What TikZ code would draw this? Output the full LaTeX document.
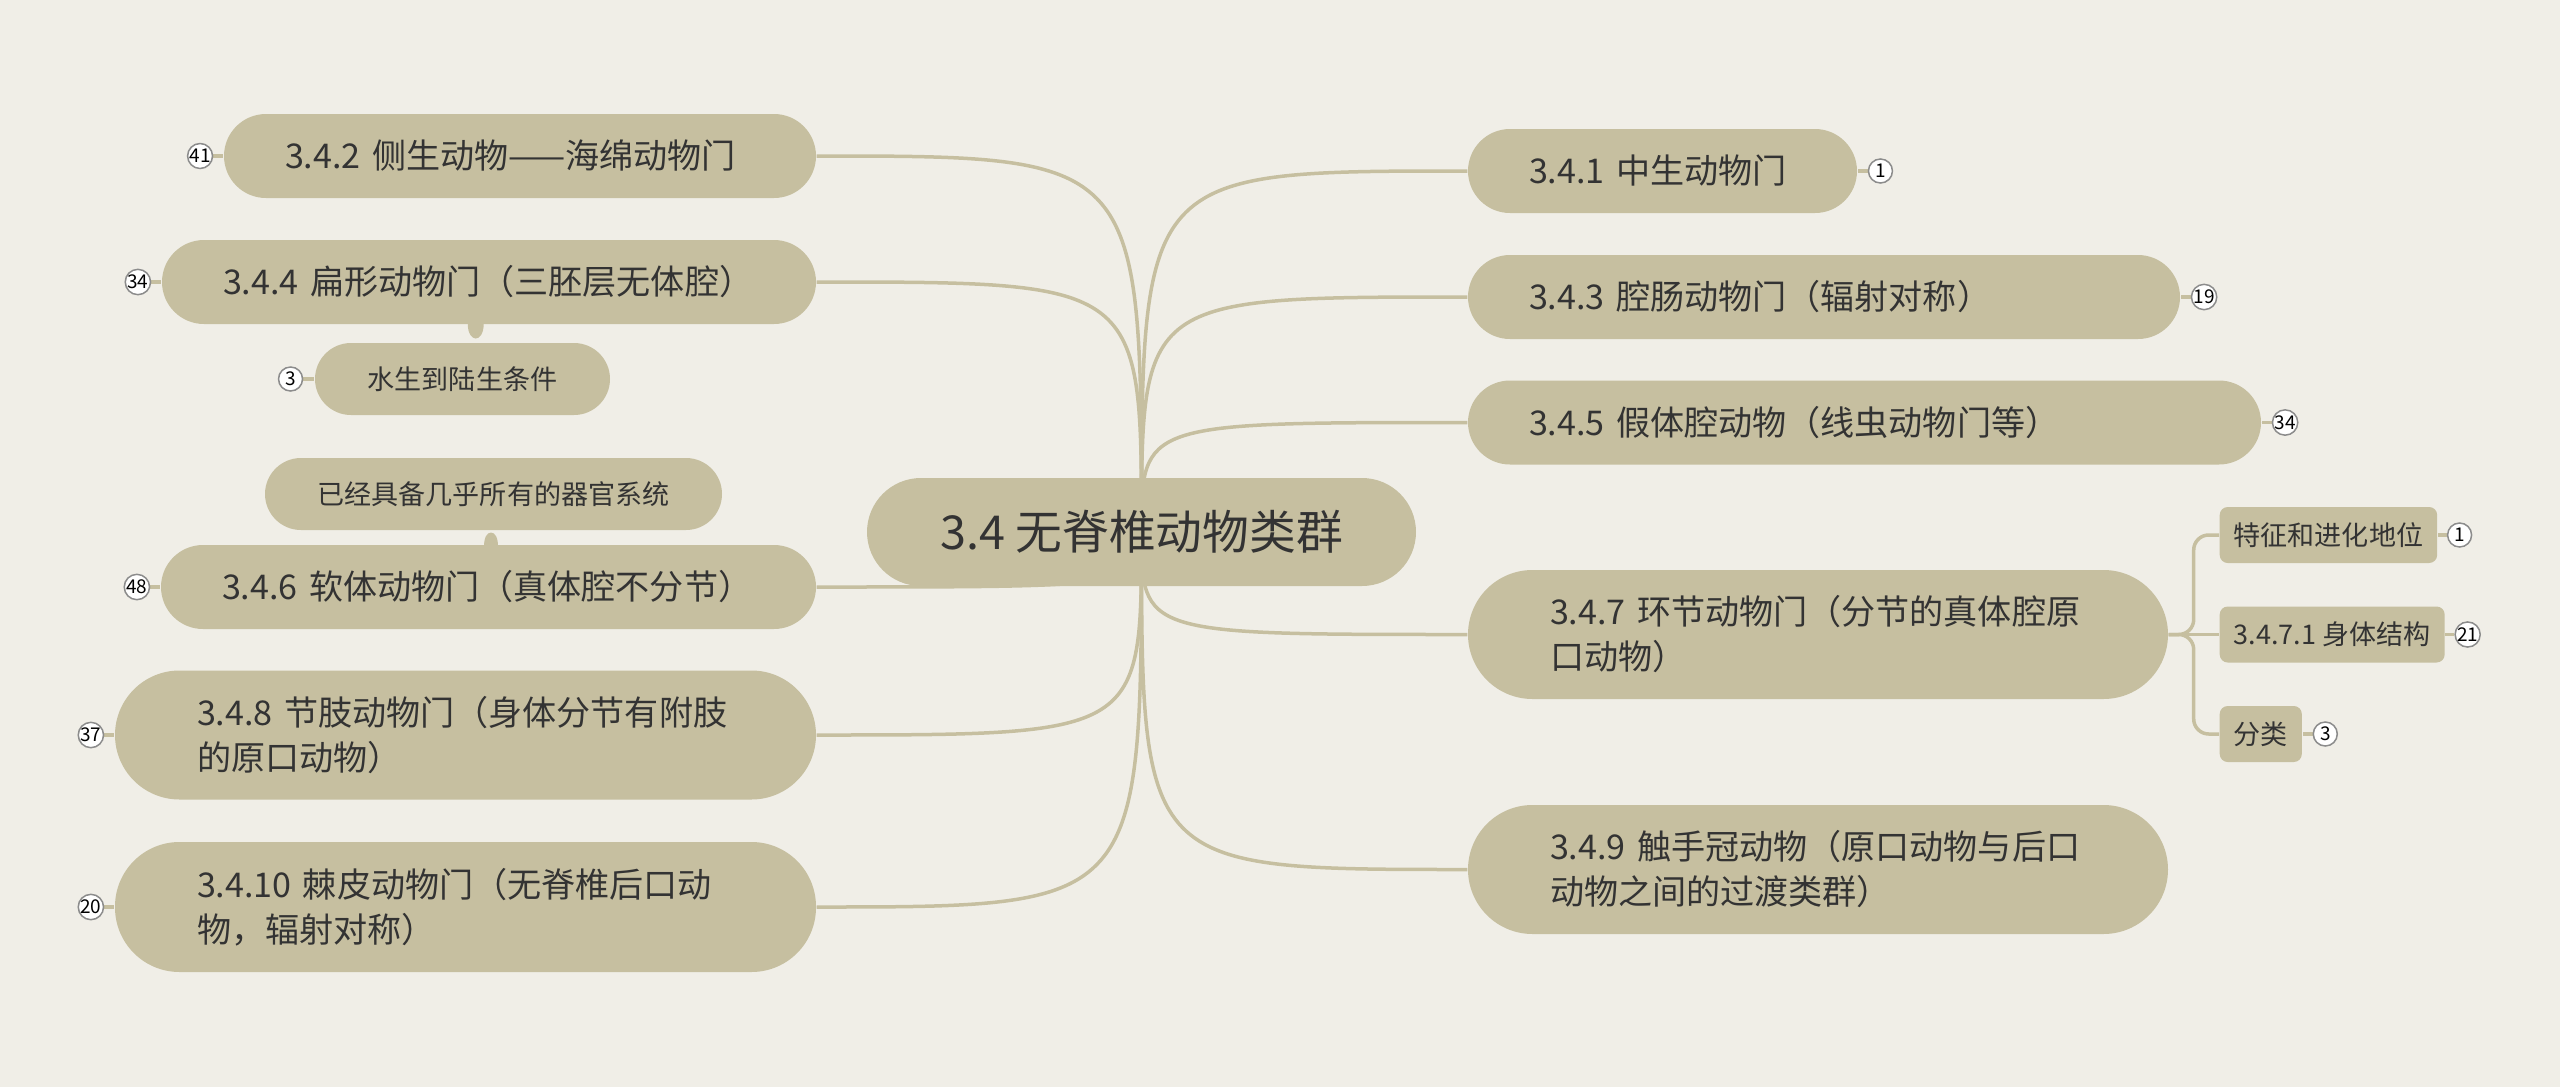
\documentclass[tikz,border=0pt]{standalone}
\usepackage{fontspec}
\setmainfont{Noto Sans CJK SC}
\usetikzlibrary{positioning,calc,backgrounds}
\definecolor{paper}{HTML}{F0EEE7}
\definecolor{khaki}{HTML}{C6BFA0}
\definecolor{ink}{HTML}{333333}
\definecolor{ring}{HTML}{8C8C8C}

\begin{document}
\begin{tikzpicture}[x=0.1mm,y=-0.1mm,
  rootnode/.style={fill=khaki,text=ink,rounded corners=5.4mm,minimum width=54.9mm,minimum height=10.8mm,inner sep=0pt,font=\fontsize{13.3pt}{16pt}\selectfont},
  topic/.style={fill=khaki,text=ink,rounded corners=4.2mm,minimum height=8.4mm,inner xsep=6.1mm,inner ysep=0pt,align=left,font=\fontsize{9.7pt}{12.8pt}\selectfont},
  bigtopic/.style={topic,rounded corners=6.45mm,minimum height=12.9mm,inner xsep=8.2mm},
  subtopic/.style={topic,rounded corners=3.6mm,minimum height=7.2mm,inner sep=0pt,align=center,font=\fontsize{7.7pt}{9pt}\selectfont},
  leaf/.style={topic,rounded corners=0.8mm,minimum height=5.6mm,inner xsep=1.4mm,font=\fontsize{7.7pt}{9pt}\selectfont},
  badge/.style={circle,draw=ring,fill=white,line width=0.15mm,minimum size=2.4mm,inner sep=0pt,text=black,font=\fontsize{5.4pt}{6pt}\selectfont},
  branch/.style={draw=khaki,line width=0.35mm},
]
  \useasboundingbox (0,0) rectangle (2560,1087);

  \node[rootnode] (root) at (1141.5,532) {3.4 无脊椎动物类群};

  % left side
  \node[topic,text width=47mm] (p342) at (520,156) {3.4.2~侧生动物——海绵动物门};
  \node[topic,text width=53.2mm] (p344) at (489,282) {3.4.4~扁形动物门（三胚层无体腔）};
  \node[subtopic,minimum width=29.5mm] (s344) at (462.5,379) {水生到陆生条件};
  \node[subtopic,minimum width=45.7mm] (s346) at (493.5,494) {已经具备几乎所有的器官系统};
  \node[topic,text width=53.3mm] (p346) at (488.5,587) {3.4.6~软体动物门（真体腔不分节）};
  \node[bigtopic,text width=53.7mm] (p348) at (465.5,735) {3.4.8~节肢动物门（身体分节有附肢\\的原口动物）};
  \node[bigtopic,text width=53.7mm,minimum height=13mm] (p3410) at (465.5,907) {3.4.10~棘皮动物门（无脊椎后口动\\物，辐射对称）};

  % right side
  \node[topic,text width=26.7mm] (p341) at (1662.5,171) {3.4.1~中生动物门};
  \node[topic,text width=59mm] (p343) at (1824,297) {3.4.3~腔肠动物门（辐射对称）};
  \node[topic,text width=67.1mm] (p345) at (1864.5,422.5) {3.4.5~假体腔动物（线虫动物门等）};
  \node[bigtopic,text width=53.6mm] (p347) at (1818,634.5) {3.4.7~环节动物门（分节的真体腔原\\口动物）};
  \node[bigtopic,text width=53.6mm] (p349) at (1818,869.5) {3.4.9~触手冠动物（原口动物与后口\\动物之间的过渡类群）};

  \node[leaf,anchor=west] (c1) at (2219,535) {特征和进化地位};
  \node[leaf,anchor=west] (c2) at (2219,634.5) {3.4.7.1 身体结构};
  \node[leaf,anchor=west] (c3) at (2219,734) {分类};

  % counters
  \node[badge,left=1mm of p342] (b342) {41};
  \node[badge,left=1mm of p344] (b344) {34};
  \node[badge,left=1.1mm of s344] (bs344) {3};
  \node[badge,left=1mm of p346] (b346) {48};
  \node[badge,left=1mm of p348] (b348) {37};
  \node[badge,left=1mm of p3410] (b3410) {20};
  \node[badge,right=1mm of p341] (b341) {1};
  \node[badge,right=1mm of p343] (b343) {19};
  \node[badge,right=1mm of p345] (b345) {34};
  \node[badge,right=0.9mm of c1] (bc1) {1};
  \node[badge,right=0.9mm of c2] (bc2) {21};
  \node[badge,right=1mm of c3] (bc3) {3};

  \coordinate (k344) at ($(p344.south)!0.5!(s344.north)$);
  \coordinate (k346) at ($(p346.north)!0.5!(s346.south)$);

  \begin{scope}[on background layer]
    \fill[paper] (0,0) rectangle (2560,1087);
    \foreach \n in {p342,p344,p346,p348,p3410}
      \draw[branch] (root.center) .. controls (root.center |- \n.east) .. (\n.east);
    \foreach \n in {p341,p343,p345,p347,p349}
      \draw[branch] (root.center) .. controls (root.center |- \n.west) .. (\n.west);
    \draw[branch,rounded corners=1.5mm] (p347.east) -- ++(25,0) |- (c1.west);
    \draw[branch,rounded corners=1.5mm] (p347.east) -- ++(25,0) |- (c3.west);
    \draw[branch] (p347.east) -- (c2.west);
    \foreach \b/\n in {b342/p342,b344/p344,bs344/s344,b346/p346,b348/p348,b3410/p3410,b341/p341,b343/p343,b345/p345,bc1/c1,bc2/c2,bc3/c3}
      \draw[branch] (\b) -- (\n);
    % short stubs to the stacked children
    \fill[khaki] ($(k344)+(-8,-10)$) .. controls ($(k344)+(-8,0)$) and ($(k344)+(-4,5)$) .. ($(k344)+(0,5)$)
      .. controls ($(k344)+(4,5)$) and ($(k344)+(8,0)$) .. ($(k344)+(8,-10)$) -- cycle;
    \fill[khaki] ($(k346)+(-7,9)$) .. controls ($(k346)+(-7,0)$) and ($(k346)+(-4,-5)$) .. ($(k346)+(0,-5)$)
      .. controls ($(k346)+(4,-5)$) and ($(k346)+(7,0)$) .. ($(k346)+(7,9)$) -- cycle;
  \end{scope}
\end{tikzpicture}
\end{document}
